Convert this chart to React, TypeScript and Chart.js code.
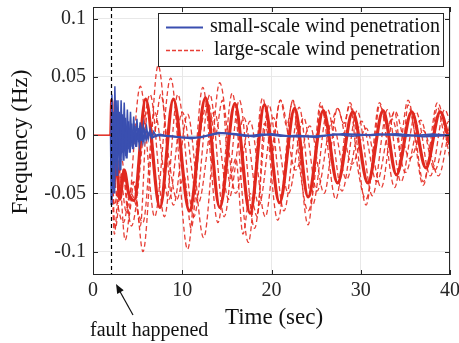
import { useEffect, useRef } from 'react';
import { Chart, registerables } from 'chart.js';

Chart.register(...registerables);

const FONT = '"Liberation Serif", "Times New Roman", serif';
const RED = '#e0281e';
const RED_D = 'rgba(228,42,32,0.9)';
const BLUE = '#3a4fb0';

const xTicks = [0, 10, 20, 30, 40];
const yTicks = [-0.1, -0.05, 0, 0.05, 0.1];
const faultTime = 2;

// pre-fault steady state
const preFault: [number, number][] = [[0, 0], [2, 0]];

// small-scale wind penetration (blue)
const small1: [number, number][] = [
  [2, 0], [2.12, 0.035], [2.28, -0.045], [2.45, 0.042], [2.62, -0.02], [2.8, 0.03], [2.97, -0.03],
  [3.15, 0.03], [3.32, -0.015], [3.5, 0.028], [3.67, -0.018], [3.85, 0.022], [4.02, -0.012],
  [4.2, 0.02], [4.38, -0.01], [4.56, 0.016], [4.74, -0.008], [4.92, 0.014], [5.1, -0.006],
  [5.28, 0.011], [5.46, -0.005], [5.64, 0.009], [5.82, -0.004], [6.0, 0.007], [6.2, -0.003],
  [6.4, 0.005], [6.6, -0.002], [6.8, 0.003], [7.1, -0.001], [7.4, 0.001], [8, 0], [9, -0.001],
  [11, -0.003], [13, 0.0], [14.5, 0.002], [17, -0.001], [19, 0.001], [21, -0.001], [23, 0.0],
  [25, -0.002], [27, 0.001], [29, -0.001], [32, 0.001], [35, -0.001], [38, 0.001], [40, 0],
];
const small2: [number, number][] = [
  [2, 0], [2.08, -0.06], [2.22, 0.02], [2.38, -0.05], [2.55, 0.03], [2.72, -0.035], [2.9, 0.02],
  [3.07, -0.03], [3.25, 0.018], [3.42, -0.022], [3.6, 0.015], [3.77, -0.02], [3.95, 0.012],
  [4.12, -0.015], [4.3, 0.01], [4.48, -0.012], [4.66, 0.008], [4.84, -0.01], [5.02, 0.006],
  [5.2, -0.007], [5.4, 0.004], [5.6, -0.005], [5.8, 0.003], [6.0, -0.003], [6.3, 0.002],
  [6.6, -0.002], [7.2, 0], [10, -0.002], [12, -0.002], [14, 0.002], [16, 0.001], [18, -0.001],
  [20, 0.001], [22, -0.001], [25, -0.001], [28, 0.001], [31, 0], [34, 0.001], [37, -0.001], [40, 0],
];

// large-scale wind penetration (red)
const largeMain: [number, number][] = [
  [2, 0], [2.1, 0.03], [2.3, -0.045], [2.6, -0.02], [3.0, -0.055], [3.5, -0.03], [4.0, -0.05],
  [4.6, -0.056], [5.9, 0.031], [7.5, -0.062], [9.0, 0.031], [10.8, -0.065], [12.6, 0.032],
  [14.2, -0.062], [15.9, 0.027], [17.6, -0.067], [19.2, 0.026], [20.9, -0.058], [22.6, 0.023],
  [24.1, -0.053], [25.8, 0.021], [27.4, -0.041], [29.1, 0.02], [30.8, -0.041], [32.5, 0.021],
  [34.0, -0.034], [35.7, 0.02], [37.3, -0.028], [38.9, 0.02], [40, -0.008],
];
const large1: [number, number][] = [
  [2, 0], [2.3, -0.05], [2.8, -0.02], [3.6, -0.09], [5.3, 0.042], [6.9, -0.07], [8.7, 0.049],
  [10.6, -0.098], [12.3, 0.041], [14.0, -0.075], [15.6, 0.036], [17.4, -0.092], [19.0, 0.032],
  [20.7, -0.073], [22.4, 0.03], [24.1, -0.077], [25.5, 0.028], [27.2, -0.055], [28.8, 0.028],
  [30.6, -0.06], [32.1, 0.028], [33.8, -0.045], [35.3, 0.03], [37.0, -0.043], [38.6, 0.028], [40, -0.02],
];
const large2: [number, number][] = [
  [2, 0], [2.4, -0.06], [3.2, -0.02], [4.0, -0.07], [4.6, -0.04], [5.6, -0.1], [7.3, 0.06],
  [9.0, -0.06], [10.6, 0.018], [12.4, -0.088], [14.2, 0.045], [16.0, -0.05], [17.6, 0.012],
  [19.3, -0.07], [21.0, 0.03], [22.7, -0.03], [24.3, 0.008], [25.9, -0.05], [27.4, 0.023],
  [29.0, -0.025], [30.6, 0.006], [32.3, -0.045], [33.8, 0.021], [35.5, -0.02], [37.0, 0.004],
  [38.7, -0.035], [40, 0.01],
];
const large3: [number, number][] = [
  [2, 0], [2.5, -0.08], [3.3, -0.03], [4.3, -0.078], [6.4, 0.035], [8.0, -0.07], [9.5, 0.035],
  [11.3, -0.07], [13.1, 0.035], [14.7, -0.07], [16.4, 0.03], [18.1, -0.08], [19.7, 0.026],
  [21.4, -0.065], [23.1, 0.024], [24.6, -0.06], [26.3, 0.022], [27.9, -0.048], [29.6, 0.021],
  [31.3, -0.052], [33.0, 0.022], [34.5, -0.04], [36.2, 0.02], [37.8, -0.035], [39.4, 0.022], [40, 0.012],
];
const large4: [number, number][] = [
  [2, 0], [2.4, -0.085], [3.0, -0.03], [3.7, -0.065], [4.5, -0.04], [5.3, -0.078], [6.1, 0.02],
  [6.8, 0.0], [7.6, 0.035], [8.5, -0.02], [9.4, -0.055], [10.2, -0.035], [11.0, -0.08], [12.0, 0.0],
  [12.9, 0.028], [13.7, 0.0], [14.5, 0.03], [15.3, -0.04], [16.0, -0.02], [16.8, -0.085],
  [17.6, -0.05], [18.4, -0.07], [19.2, 0.01], [20.0, -0.01], [21.0, 0.03], [21.7, 0.008],
  [22.4, 0.03], [23.2, -0.03], [24.1, -0.065], [24.8, -0.04], [25.5, 0.025], [26.4, 0.005],
  [27.4, 0.023], [28.1, 0.01], [28.8, 0.026], [29.7, -0.03], [30.6, -0.055], [31.4, -0.02],
  [32.1, 0.026], [33.0, 0.008], [33.8, 0.02], [34.6, -0.02], [35.3, 0.026], [36.1, 0.0],
  [37.0, -0.04], [37.8, -0.015], [38.6, 0.024], [39.3, 0.002], [40, -0.01],
];
const large5: [number, number][] = [
  [2, 0], [2.6, -0.05], [3.4, -0.075], [4.2, -0.05], [5.6, -0.075], [6.9, 0.02], [8.5, -0.055],
  [10.0, 0.02], [11.8, -0.058], [13.6, 0.02], [15.2, -0.055], [16.9, 0.015], [18.6, -0.06],
  [20.2, 0.015], [21.9, -0.05], [23.6, 0.015], [25.1, -0.048], [26.8, 0.012], [28.4, -0.038],
  [30.1, 0.012], [31.8, -0.04], [33.5, 0.014], [35.0, -0.032], [36.7, 0.013], [38.3, -0.03],
  [39.9, 0.012], [40, 0.011],
];

const legendLabels = ['small-scale wind penetration', 'large-scale wind penetration'];
const xTitle = 'Time (sec)';
const yTitle = 'Frequency (Hz)';
const faultNote = 'fault happened';

const pts = (a: [number, number][]) => a.map(([x, y]) => ({ x, y }));

const zeroPad = (s: any) => {
  s.paddingTop = 0; s.paddingBottom = 0; s.paddingLeft = 0; s.paddingRight = 0;
};

const overlay = {
  id: 'overlay',
  afterDatasetsDraw(chart: any) {
    const { ctx, chartArea: a, scales } = chart;
    const fx = scales.x.getPixelForValue(faultTime);
    ctx.save();
    ctx.strokeStyle = '#000';
    ctx.lineWidth = 1.2;
    ctx.setLineDash([4, 3]);
    ctx.beginPath();
    ctx.moveTo(Math.round(fx) + 0.5, a.top);
    ctx.lineTo(Math.round(fx) + 0.5, a.bottom);
    ctx.stroke();
    ctx.restore();
  },
  afterDraw(chart: any) {
    const { ctx, chartArea: a, scales } = chart;
    ctx.save();
    // box
    ctx.strokeStyle = '#262626';
    ctx.lineWidth = 1;
    ctx.strokeRect(a.left + 0.5, a.top + 0.5, a.right - a.left - 1, a.bottom - a.top - 1);
    // inward ticks
    ctx.beginPath();
    xTicks.forEach((v) => {
      const p = Math.round(scales.x.getPixelForValue(v)) + 0.5;
      ctx.moveTo(p, a.bottom); ctx.lineTo(p, a.bottom - 5);
      ctx.moveTo(p, a.top); ctx.lineTo(p, a.top + 5);
    });
    yTicks.forEach((v) => {
      const p = Math.round(scales.y.getPixelForValue(v)) + 0.5;
      ctx.moveTo(a.left, p); ctx.lineTo(a.left + 5, p);
      ctx.moveTo(a.right, p); ctx.lineTo(a.right - 5, p);
    });
    ctx.stroke();

    // legend
    const lx = 158, ly = 13, lw = 285, lh = 53;
    ctx.fillStyle = '#fff';
    ctx.fillRect(lx, ly, lw, lh);
    ctx.strokeStyle = '#262626';
    ctx.strokeRect(lx + 0.5, ly + 0.5, lw, lh);
    ctx.lineWidth = 2.2;
    ctx.strokeStyle = BLUE;
    ctx.beginPath(); ctx.moveTo(166, 27.5); ctx.lineTo(203, 27.5); ctx.stroke();
    ctx.lineWidth = 1.5;
    ctx.strokeStyle = RED_D;
    ctx.setLineDash([4, 2]);
    ctx.beginPath(); ctx.moveTo(166, 50.5); ctx.lineTo(203, 50.5); ctx.stroke();
    ctx.setLineDash([]);
    ctx.fillStyle = '#111';
    ctx.font = `20px ${FONT}`;
    ctx.textBaseline = 'middle';
    ctx.textAlign = 'left';
    ctx.fillText(legendLabels[0], 210, 27);
    ctx.fillText(legendLabels[1], 214, 50);

    // axis titles
    ctx.font = `23px ${FONT}`;
    ctx.textAlign = 'center';
    ctx.fillText(xTitle, 274, 318);
    ctx.save();
    ctx.translate(21, 142);
    ctx.rotate(-Math.PI / 2);
    ctx.fillText(yTitle, 0, 0);
    ctx.restore();

    // annotation
    ctx.font = `20px ${FONT}`;
    ctx.textAlign = 'left';
    ctx.textBaseline = 'alphabetic';
    ctx.fillText(faultNote, 90, 336);
    ctx.strokeStyle = '#111';
    ctx.lineWidth = 1.2;
    const tx = 116, ty = 284, sx = 133, sy = 315;
    ctx.beginPath(); ctx.moveTo(sx, sy); ctx.lineTo(tx + 2, ty + 4); ctx.stroke();
    const ang = Math.atan2(ty - sy, tx - sx);
    const L = 10, W = 0.38;
    ctx.fillStyle = '#111';
    ctx.beginPath();
    ctx.moveTo(tx, ty);
    ctx.lineTo(tx - L * Math.cos(ang - W), ty - L * Math.sin(ang - W));
    ctx.lineTo(tx - L * Math.cos(ang + W), ty - L * Math.sin(ang + W));
    ctx.closePath();
    ctx.fill();
    ctx.restore();
  },
};

export default function App() {
  const ref = useRef<HTMLCanvasElement>(null);
  useEffect(() => {
    const redDash = (d: [number, number][]) => ({
      data: pts(d), borderColor: RED_D, borderWidth: 1.3, borderDash: [5, 3], pointRadius: 0,
      cubicInterpolationMode: 'monotone', fill: false,
    });
    const blue = (d: [number, number][]) => ({
      data: pts(d), borderColor: BLUE, borderWidth: 1.5, pointRadius: 0, tension: 0, fill: false,
    });
    const chart = new Chart(ref.current as HTMLCanvasElement, {
      type: 'line',
      data: {
        datasets: [
          { data: pts(preFault), borderColor: RED, borderWidth: 1.5, pointRadius: 0 },
          blue(small1),
          { ...blue(small2), borderWidth: 2.2 },
          { data: pts(largeMain), borderColor: RED, borderWidth: 3.2, pointRadius: 0, cubicInterpolationMode: 'monotone' },
          redDash(large1),
          redDash(large2),
          redDash(large3),
          redDash(large4),
          redDash(large5),
        ] as any,
      },
      options: {
        animation: false,
        responsive: false,
        devicePixelRatio: 1,
        events: [],
        layout: { padding: { left: 0, top: 7, right: 9, bottom: 0 }, autoPadding: false } as any,
        plugins: { legend: { display: false }, tooltip: { enabled: false }, title: { display: false } },
        scales: {
          x: {
            type: 'linear', min: 0, max: 40,
            afterBuildTicks: (s: any) => { s.ticks = xTicks.map((v) => ({ value: v })); },
            afterFit: (s: any) => { s.height = 68; zeroPad(s); },
            grid: { color: '#e8e8e8', drawTicks: false },
            border: { display: false },
            ticks: { padding: 4, color: '#262626', font: { family: FONT, size: 20 }, maxRotation: 0 },
          },
          y: {
            type: 'linear', min: -0.12, max: 0.11,
            afterBuildTicks: (s: any) => { s.ticks = yTicks.map((v) => ({ value: v })); },
            afterFit: (s: any) => { s.width = 93; zeroPad(s); },
            grid: { color: '#e8e8e8', drawTicks: false },
            border: { display: false },
            ticks: {
              padding: 7, color: '#262626', font: { family: FONT, size: 20 },
              callback: (v: any) => String(+Number(v).toFixed(2)),
            },
          },
        },
      } as any,
      plugins: [overlay],
    });
    return () => chart.destroy();
  }, []);
  return (
    <div style={{ position: 'fixed', left: 0, top: 0, width: 459, height: 343, background: '#fff' }}>
      <canvas ref={ref} width={459} height={343} style={{ display: 'block' }} />
    </div>
  );
}
